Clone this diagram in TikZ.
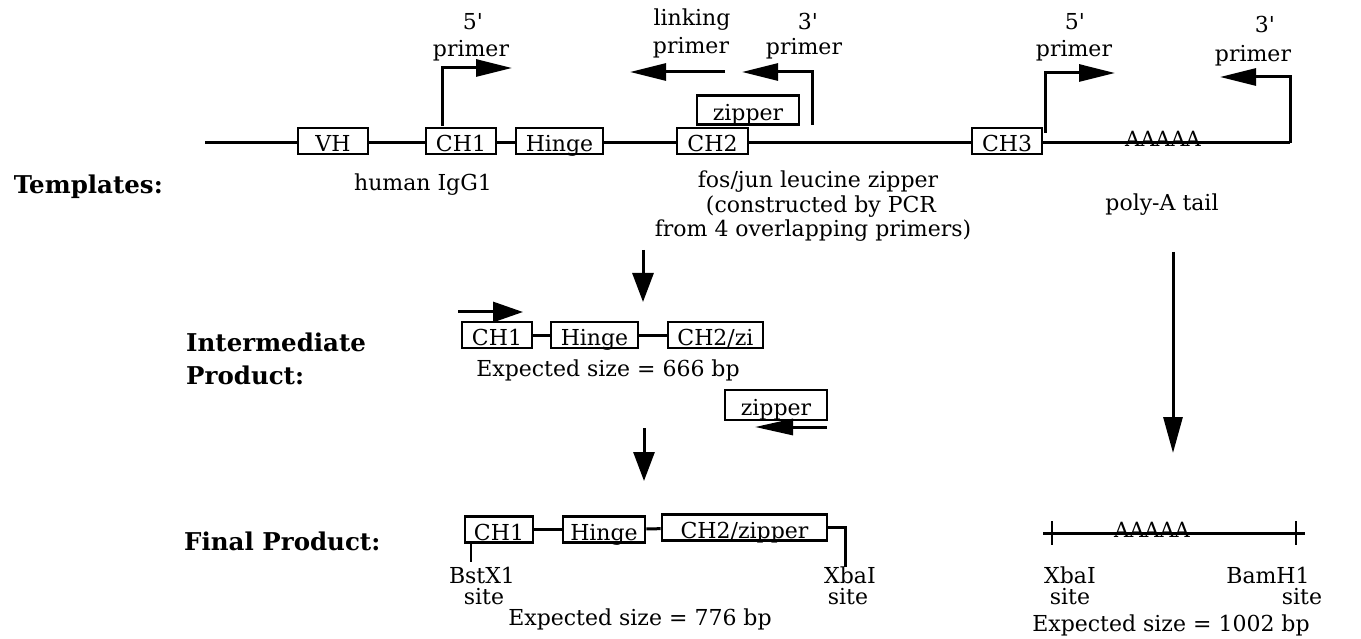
\documentclass[tikz,border=0pt]{standalone}
\usepackage{fontspec}
\setmainfont{DejaVu Serif}
\usetikzlibrary{arrows.meta}
\newcommand{\prm}{\textquotesingle}
\begin{document}
\begin{tikzpicture}[x=1pt,y=-1pt,
  dna/.style={line width=3pt},
  seg/.style={draw, line width=2.8pt, fill=white, minimum height=26pt, inner sep=0pt, text height=21pt, text depth=0pt, font=\fontsize{22}{22}\selectfont},
  txt/.style={inner sep=0pt, anchor=base, font=\fontsize{22}{22}\selectfont},
  hd/.style={inner sep=0pt, font=\fontsize{24.5}{24.5}\selectfont\bfseries},
  parrow/.style={line width=3pt, -{Triangle[length=36pt,width=17pt]}},
  darrow/.style={line width=3pt, -{Triangle[length=29pt,width=21pt]}},
  tickline/.style={line width=2.6pt}
]
\useasboundingbox (0,0) rectangle (1361,639);
\fill[white] (0,0) rectangle (1361,639);

% ---------- template row ----------
\coordinate (L0) at (205,143);
\coordinate (L1) at (1290,143);
\draw[dna] (L0) -- (L1);
\node[seg, minimum width=70pt] (VH) at (333,141) {VH};
\node[seg, minimum width=70pt] (CH1) at (461,141) {CH1};
\node[seg, minimum width=87pt] (Hin) at (559.5,141) {Hinge};
\node[seg, minimum width=71pt] (CH2) at (712.5,141) {CH2};
\node[seg, minimum width=70pt] (CH3) at (1007,141) {CH3};
\node[seg, minimum width=102pt, minimum height=29pt] (zipT) at (748,110) {zipper};
\node[txt, font=\fontsize{21}{21}\selectfont] (polyA) at (1163,147) {AAAAA};

% left 5' primer
\coordinate (a1b) at (442,126);
\coordinate (a1c) at (442,68);
\coordinate (a1t) at (512,68);
\draw[parrow] (a1b) -- (a1c) -- (a1t);
\node[txt] (a1n) at (473,30) {5\prm};
\node[txt] (a1p) at (471,57) {primer};

% linking primer
\coordinate (lk0) at (725,72);
\coordinate (lk1) at (630,72);
\draw[parrow] (lk0) -- (lk1);
\node[txt] (lkn) at (692,26) {linking};
\node[txt] (lkp) at (691,54) {primer};

% middle 3' primer
\coordinate (m3b) at (812,125);
\coordinate (m3c) at (812,72);
\coordinate (m3t) at (742,72);
\draw[parrow] (m3b) -- (m3c) -- (m3t);
\node[txt] (m3n) at (808,30) {3\prm};
\node[txt] (m3p) at (804,55) {primer};

% right 5' primer
\coordinate (r5b) at (1045,133);
\coordinate (r5c) at (1045,73);
\coordinate (r5t) at (1115,73);
\draw[parrow] (r5b) -- (r5c) -- (r5t);
\node[txt] (r5n) at (1075,30) {5\prm};
\node[txt] (r5p) at (1074,57) {primer};

% right 3' primer
\coordinate (r3c) at (1290,77);
\coordinate (r3t) at (1220,77);
\draw[parrow] (L1) -- (r3c) -- (r3t);
\node[txt] (r3n) at (1265,33) {3\prm};
\node[txt] (r3p) at (1253,62) {primer};

% template labels
\node[hd, anchor=base east] (tmpl) at (163,194) {Templates:};
\node[txt] (igg) at (423,191) {human IgG1};
\node[txt] (fos1) at (818,188) {fos/jun leucine zipper};
\node[txt] (fos2) at (821,213) {(constructed by PCR};
\node[txt] (fos3) at (813,237) {from 4 overlapping primers)};
\node[txt] (poly) at (1162,211) {poly-A tail};

% ---------- intermediate ----------
\coordinate (d1s) at (643,250);
\coordinate (d1e) at (643,302);
\draw[darrow] (d1s) -- (d1e);
\coordinate (i5s) at (458,312);
\coordinate (i5e) at (523,312);
\draw[line width=3pt, -{Triangle[length=30pt,width=20pt]}] (i5s) -- (i5e);
\node[seg, minimum width=70pt] (iCH1) at (497,335) {CH1};
\node[seg, minimum width=87pt] (iHin) at (594.5,335) {Hinge};
\node[seg, minimum width=95pt] (iCH2) at (715.5,335) {CH2/zi};
\draw[dna] (iCH1) -- (iHin);
\draw[dna] (iHin) -- (iCH2);
\node[txt] (exp1) at (608,376) {Expected size = 666 bp};
\node[seg, minimum width=102pt, minimum height=30pt] (iZip) at (776,405) {zipper};
\coordinate (iz0) at (827,427);
\coordinate (iz1) at (755,427);
\draw[line width=3pt, -{Triangle[length=38pt,width=16pt]}] (iz0) -- (iz1);
\node[hd, anchor=base west] (inter1) at (186,352) {Intermediate};
\node[hd, anchor=base west] (inter2) at (186,384) {Product:};
\coordinate (d2s) at (644,428);
\coordinate (d2e) at (644,481);
\draw[darrow] (d2s) -- (d2e);

% right long arrow
\coordinate (ra0) at (1173,252);
\coordinate (ra1) at (1173,453);
\draw[line width=3pt, -{Triangle[length=36pt,width=19pt]}] (ra0) -- (ra1);

% ---------- final ----------
\node[hd, anchor=base west] (fin) at (184,550) {Final Product:};
\node[seg, minimum width=68pt] (fCH1) at (499,529.5) {CH1};
\node[seg, minimum width=82pt] (fHin) at (604,529.5) {Hinge};
\node[seg, minimum width=165pt] (fCH2) at (744.5,527.5) {CH2/zipper};
\draw[dna] (fCH1) -- (fHin);
\draw[dna] (fHin) -- (fCH2);
\coordinate (xb1) at (845,567);
\draw[dna] (fCH2.east) -- (fCH2.east -| xb1) -- (xb1);
\coordinate (bs) at (471,562);
\draw[tickline] (fCH1.south -| bs) -- (bs);
\node[txt] (bst1) at (482,583) {BstX1};
\node[txt] (bst2) at (484,604) {site};
\node[txt] (xba1) at (850,583) {XbaI};
\node[txt] (xba2) at (848,604) {site};
\node[txt] (exp2) at (640,625) {Expected size = 776 bp};

% right final
\coordinate (R0) at (1043,533);
\coordinate (R1) at (1305,533);
\draw[dna] (R0) -- (R1);
\coordinate (t1a) at (1052,521); \coordinate (t1b) at (1052,545);
\coordinate (t2a) at (1296,521); \coordinate (t2b) at (1296,545);
\draw[tickline] (t1a) -- (t1b);
\draw[tickline] (t2a) -- (t2b);
\node[txt, font=\fontsize{21}{21}\selectfont] (polyB) at (1152,537) {AAAAA};
\node[txt] (xb3) at (1070,583) {XbaI};
\node[txt] (xb4) at (1070,604) {site};
\node[txt] (bam1) at (1268,583) {BamH1};
\node[txt] (bam2) at (1302,604) {site};
\node[txt] (exp3) at (1171,631) {Expected size = 1002 bp};
\end{tikzpicture}
\end{document}
